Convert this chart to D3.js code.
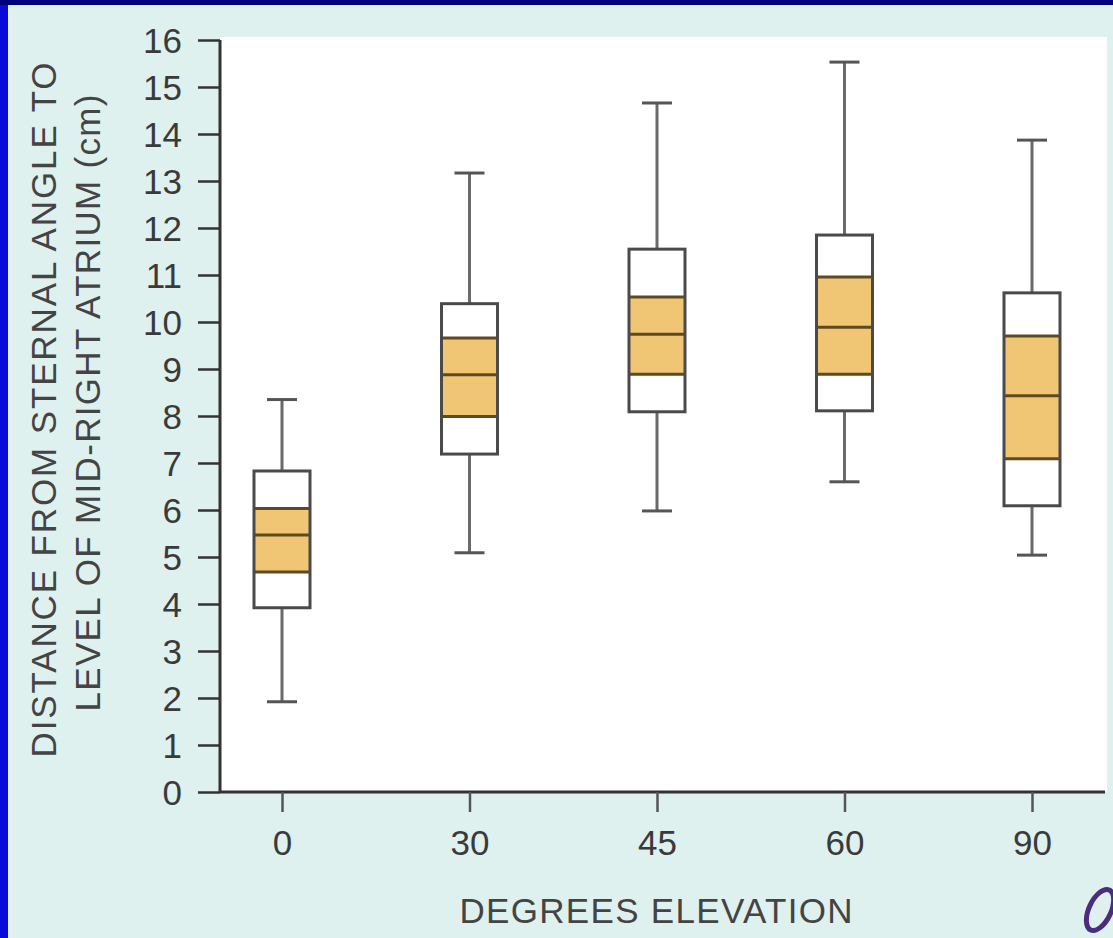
<!DOCTYPE html>
<html>
<head>
<meta charset="utf-8">
<script src="https://cdn.jsdelivr.net/npm/d3@7"></script>
<style>
  html, body { margin: 0; padding: 0; background: #dff1ef; }
  svg { display: block; font-family: "Liberation Sans", Arial, sans-serif; }
</style>
</head>
<body>
<div id="chart"></div>
<script>
// dados (cm)
const categorias = ["0", "30", "45", "60", "90"];
const bigodeMin  = [1.92, 5.09, 5.98, 6.60, 5.04];
const caixaMin   = [3.92, 7.19, 8.09, 8.11, 6.09];
const faixaMin   = [4.68, 7.99, 8.89, 8.89, 7.09];
const mediana    = [5.47, 8.88, 9.74, 9.89, 8.43];
const faixaMax   = [6.03, 9.66, 10.53, 10.96, 9.70];
const caixaMax   = [6.83, 10.39, 11.55, 11.85, 10.62];
const bigodeMax  = [8.35, 13.17, 14.66, 15.53, 13.87];
const ticksY     = d3.range(0, 17);

const largura = 1113;
const altura = 938;
const plot = { left: 220, right: 1107, top: 37, bottom: 792 };

const svg = d3.select("#chart").append("svg")
    .attr("width", largura)
    .attr("height", altura);

// fundo e moldura azul
svg.append("rect").attr("width", largura).attr("height", altura).attr("fill", "#dff1ef");
svg.append("rect").attr("x", 0).attr("y", 0).attr("width", 8).attr("height", altura).attr("fill", "#0a0ad8");
svg.append("rect").attr("x", 0).attr("y", 0).attr("width", largura).attr("height", 5).attr("fill", "#00007a");

// área branca do gráfico
svg.append("rect")
    .attr("x", plot.left).attr("y", plot.top)
    .attr("width", plot.right - plot.left).attr("height", plot.bottom - plot.top)
    .attr("fill", "#ffffff");

// Escalas
const escalaX = d3.scalePoint().domain(categorias).range([282, 1032]);
const escalaY = d3.scaleLinear().domain([0, 16]).range([plot.bottom, 40]);

// Eixo Y
const eixoY = svg.append("g")
    .attr("transform", `translate(${plot.left},0)`)
    .call(d3.axisLeft(escalaY).tickValues(ticksY).tickSize(22).tickPadding(16).tickSizeOuter(0));
eixoY.select(".domain").attr("stroke", "#333").attr("stroke-width", 3)
    .attr("d", `M0,${escalaY(16)}V${plot.bottom}`);
eixoY.selectAll(".tick line").attr("stroke", "#333").attr("stroke-width", 2.5);
eixoY.selectAll(".tick text")
    .attr("fill", "#3a3a3a")
    .style("font-size", "35px")
    .attr("dy", "0.36em");

// Eixo X
const eixoX = svg.append("g")
    .attr("transform", `translate(0,${plot.bottom})`)
    .call(d3.axisBottom(escalaX).tickSize(20).tickPadding(18).tickSizeOuter(0));
eixoX.select(".domain").attr("stroke", "#333").attr("stroke-width", 3)
    .attr("d", `M${plot.left},0H${plot.right - 2}`);
eixoX.selectAll(".tick line").attr("stroke", "#555").attr("stroke-width", 2.5);
eixoX.selectAll(".tick text")
    .attr("fill", "#3a3a3a")
    .style("font-size", "35px");

// Títulos dos eixos
svg.append("text")
    .attr("x", 656).attr("y", 923)
    .attr("text-anchor", "middle")
    .attr("fill", "#444")
    .style("font-size", "35px")
    .attr("textLength", 393)
    .text("DEGREES ELEVATION");

svg.append("text")
    .attr("transform", "translate(56,410) rotate(-90)")
    .attr("text-anchor", "middle")
    .attr("fill", "#444")
    .style("font-size", "35px")
    .attr("textLength", 695)
    .text("DISTANCE FROM STERNAL ANGLE TO");

svg.append("text")
    .attr("transform", "translate(100,403) rotate(-90)")
    .attr("text-anchor", "middle")
    .attr("fill", "#444")
    .style("font-size", "35px")
    .attr("textLength", 617)
    .text("LEVEL OF MID-RIGHT ATRIUM (cm)");

// Boxplots
const dados = categorias.map((c, i) => ({
    cat: c, min: bigodeMin[i], q1: caixaMin[i], f1: faixaMin[i],
    med: mediana[i], f2: faixaMax[i], q3: caixaMax[i], max: bigodeMax[i]
}));

const larguraCaixa = 56;
const larguraTampa = 30;

const caixas = svg.selectAll("g.caixa")
    .data(dados)
    .enter()
    .append("g")
    .attr("class", "caixa")
    .attr("transform", d => `translate(${escalaX(d.cat)},0)`);

// bigodes
caixas.append("line")
    .attr("x1", 0).attr("x2", 0)
    .attr("y1", d => escalaY(d.max)).attr("y2", d => escalaY(d.min))
    .attr("stroke", "#6a6a6a").attr("stroke-width", 3);

caixas.append("line")
    .attr("x1", -larguraTampa / 2).attr("x2", larguraTampa / 2)
    .attr("y1", d => escalaY(d.max)).attr("y2", d => escalaY(d.max))
    .attr("stroke", "#555").attr("stroke-width", 3);

caixas.append("line")
    .attr("x1", -larguraTampa / 2).attr("x2", larguraTampa / 2)
    .attr("y1", d => escalaY(d.min)).attr("y2", d => escalaY(d.min))
    .attr("stroke", "#555").attr("stroke-width", 3);

// caixa branca
caixas.append("rect")
    .attr("x", -larguraCaixa / 2).attr("width", larguraCaixa)
    .attr("y", d => escalaY(d.q3))
    .attr("height", d => escalaY(d.q1) - escalaY(d.q3))
    .attr("fill", "#ffffff");

// faixa laranja
caixas.append("rect")
    .attr("x", -larguraCaixa / 2).attr("width", larguraCaixa)
    .attr("y", d => escalaY(d.f2))
    .attr("height", d => escalaY(d.f1) - escalaY(d.f2))
    .attr("fill", "#f0c674");

// linhas da faixa e mediana
["f1", "med", "f2"].forEach(k => {
    caixas.append("line")
        .attr("x1", -larguraCaixa / 2).attr("x2", larguraCaixa / 2)
        .attr("y1", d => escalaY(d[k])).attr("y2", d => escalaY(d[k]))
        .attr("stroke", "#5e4a22").attr("stroke-width", 3);
});

// contorno da caixa
caixas.append("rect")
    .attr("x", -larguraCaixa / 2).attr("width", larguraCaixa)
    .attr("y", d => escalaY(d.q3))
    .attr("height", d => escalaY(d.q1) - escalaY(d.q3))
    .attr("fill", "none")
    .attr("stroke", "#4a4a4a").attr("stroke-width", 3);

// pequeno logo no canto
svg.append("ellipse")
    .attr("cx", 1100).attr("cy", 910)
    .attr("rx", 11).attr("ry", 22)
    .attr("transform", "rotate(25,1100,910)")
    .attr("fill", "none")
    .attr("stroke", "#4b2d80").attr("stroke-width", 5);
</script>
</body>
</html>
